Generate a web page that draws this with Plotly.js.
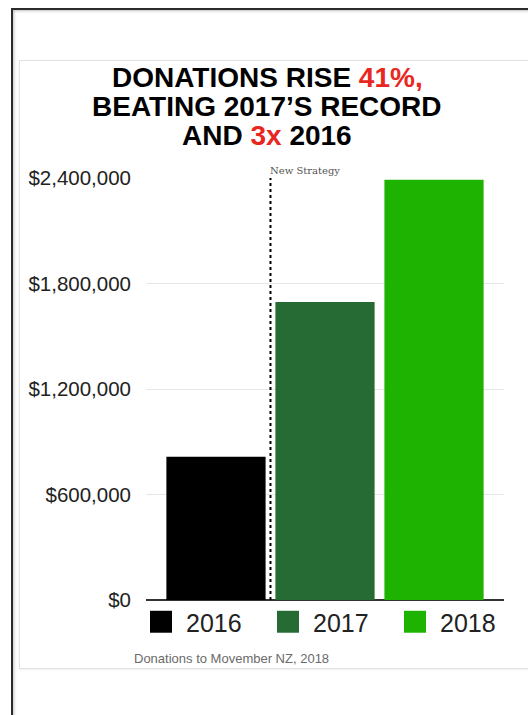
<!DOCTYPE html>
<html>
<head>
<meta charset="utf-8">
<script src="https://cdn.plot.ly/plotly-3.0.1.min.js"></script>
<style>
  html, body { margin:0; padding:0; background:#fff; width:528px; height:715px; overflow:hidden; }
  #frame { position:absolute; left:11px; top:8px; width:640px; height:800px;
           border-left:2px solid #2b2b2b; border-top:2px solid #2b2b2b;
           box-shadow: inset 1px 1px 3px rgba(0,0,0,0.25); }
  #card { position:absolute; left:19px; top:60px; width:640px; height:607px;
          border:1px solid #e2e2e2; box-shadow: 0 1px 2px rgba(0,0,0,0.06); background:#fff; }
  #chart { position:absolute; left:0; top:0; width:528px; height:715px; }
</style>
</head>
<body>
<div id="frame"></div>
<div id="card"></div>
<div id="chart"></div>
<script>
// ---- data ----
const years = ['2016', '2017', '2018'];
const donations = [815000, 1695000, 2390000];
const barColors = ['#000000', '#276b34', '#1db300'];
const tickValues = [0, 600000, 1200000, 1800000, 2400000];
const tickLabels = ['$0', '$600,000', '$1,200,000', '$1,800,000', '$2,400,000'];
const titleLines = [
  'DONATIONS RISE <span style="color:#e8281e">41%,</span>',
  'BEATING 2017\u2019S RECORD',
  'AND <span style="color:#e8281e">3x</span> 2016'
];
const strategyLabel = 'New Strategy';
const footnote = 'Donations to Movember NZ, 2018';

// ---- layout geometry ----
const W = 528, H = 715;
const M = {l:146, r:24, t:178, b:115};
const PW = W - M.l - M.r, PH = H - M.t - M.b;
const px2x = px => (px - M.l) / PW;
const py2y = py => (H - M.b - py) / PH;

const traces = years.map((yr, i) => ({
  type: 'bar',
  x: [yr],
  y: [donations[i]],
  name: yr,
  marker: {color: barColors[i], line: {width: 0}},
  hoverinfo: 'skip'
}));

const titleY = [77.5, 106.5, 135.5];
const annotations = titleLines.map((t, i) => ({
  text: t, xref: 'paper', yref: 'paper',
  x: px2x(267), y: py2y(titleY[i]),
  xanchor: 'center', yanchor: 'middle', showarrow: false, height: 27,
  font: {family: 'Liberation Sans, Arial, sans-serif', size: 28, color: '#000', weight: 'bold'}
}));
annotations.push({
  text: strategyLabel, xref: 'x', yref: 'y', x: 0.5, y: tickValues[tickValues.length-1],
  xanchor: 'left', yanchor: 'bottom', showarrow: false, yshift: 0, xshift: -2,
  font: {family: 'DejaVu Serif, serif', size: 10, color: '#555'}
});
annotations.push({
  text: footnote, xref: 'paper', yref: 'paper', x: px2x(132), y: py2y(658),
  xanchor: 'left', yanchor: 'middle', showarrow: false,
  font: {family: 'Liberation Sans, Arial, sans-serif', size: 13, color: '#6a6a6a'}
});

const layout = {
  width: W, height: H,
  margin: M,
  paper_bgcolor: 'rgba(0,0,0,0)',
  plot_bgcolor: 'rgba(0,0,0,0)',
  barmode: 'overlay',
  bargap: 0.09,
  showlegend: true,
  legend: {
    orientation: 'h', x: px2x(136), xanchor: 'left', y: py2y(622), yanchor: 'middle',
    font: {family: 'Liberation Sans, Arial, sans-serif', size: 25, color: '#222'},
    entrywidth: 72, entrywidthmode: 'pixels', itemwidth: 40,
    bgcolor: 'rgba(0,0,0,0)'
  },
  xaxis: {
    type: 'category', range: [-0.642, 2.642], showticklabels: false,
    showgrid: false, zeroline: false, showline: false, ticks: '', fixedrange: true
  },
  yaxis: {
    range: [0, tickValues[tickValues.length-1]],
    tickmode: 'array', tickvals: tickValues, ticktext: tickLabels,
    showgrid: true, gridcolor: '#e6e6e6', gridwidth: 1,
    zeroline: true, zerolinecolor: '#333', zerolinewidth: 1.5,
    showline: false, ticks: '', ticklabelstandoff: 14,
    tickfont: {family: 'Liberation Sans, Arial, sans-serif', size: 20.5, color: '#222'},
    fixedrange: true
  },
  shapes: [{
    type: 'line', xref: 'x', yref: 'y', x0: 0.5, x1: 0.5,
    y0: 0, y1: tickValues[tickValues.length-1],
    line: {color: '#000', width: 2, dash: 'dot'}
  }],
  annotations: annotations
};

Plotly.newPlot('chart', traces, layout, {staticPlot: true, displayModeBar: false}).then(gd => {
  gd.querySelectorAll('.legendpoints path').forEach(p => {
    const t = p.getAttribute('transform') || '';
    p.setAttribute('transform', t + ' scale(1.83)');
  });
});
</script>
</body>
</html>
